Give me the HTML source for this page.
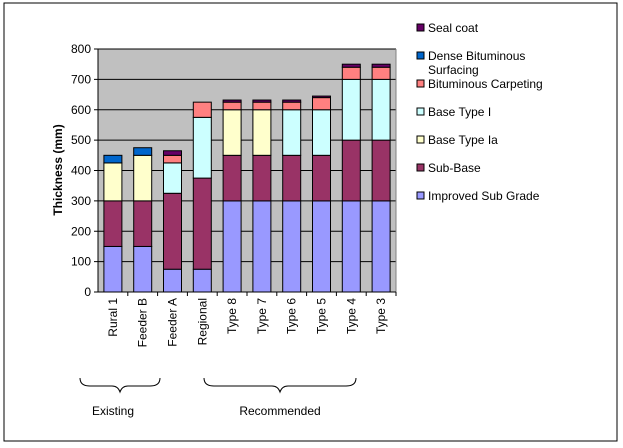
<!DOCTYPE html>
<html><head><meta charset="utf-8"><style>
body{margin:0;background:#fff;}
svg{display:block;font-family:"Liberation Sans",Arial,sans-serif;}
</style></head><body>
<svg id="chart" width="623" height="448">
<rect x="4" y="3" width="613" height="438" fill="#fff" stroke="#000" stroke-width="1"/>
<rect x="98" y="49" width="298" height="243" fill="#c0c0c0"/>
<g id="grid"></g><g id="bars"></g><g id="axes"></g><g id="legend"></g>
<text x="0" y="0" transform="translate(62,170) rotate(-90)" text-anchor="middle" font-size="12" font-weight="bold">Thickness (mm)</text>
<path d="M80,378 q0,8 10,8 h22 q6,0 8,6 q2,-6 8,-6 h22 q10,0 10,-8" fill="none" stroke="#000"/>
<path d="M204,378 q0,8 10,8 h58 q6,0 8,6 q2,-6 8,-6 h58 q10,0 10,-8" fill="none" stroke="#000"/>
<text x="113" y="415" text-anchor="middle" font-size="12">Existing</text>
<text x="280" y="415" text-anchor="middle" font-size="12">Recommended</text>
</svg>
<script>
const categories=["Rural 1","Feeder B","Feeder A","Regional","Type 8","Type 7","Type 6","Type 5","Type 4","Type 3"];
const seriesNames=["Improved Sub Grade","Sub-Base","Base Type Ia","Base Type I","Bituminous Carpeting","Dense Bituminous Surfacing","Seal coat"];
const improvedSubGrade=[150,150,75,75,300,300,300,300,300,300];
const subBase=[150,150,250,300,150,150,150,150,200,200];
const baseTypeIa=[125,150,0,0,150,150,0,0,0,0];
const baseTypeI=[0,0,100,200,0,0,150,150,200,200];
const bitCarpeting=[0,0,25,50,25,25,25,40,40,40];
const denseBit=[25,25,0,0,0,0,0,0,0,0];
const sealCoat=[0,0,15,0,7,7,7,5,10,10];
const yTicks=[0,100,200,300,400,500,600,700,800];
const colors=["#9999ff","#993366","#ffffcc","#ccffff","#ff8080","#0066cc","#660066"];
const series=[improvedSubGrade,subBase,baseTypeIa,baseTypeI,bitCarpeting,denseBit,sealCoat];
const NS="http://www.w3.org/2000/svg";
const X0=98,X1=396,Y0=292,Y1=49,YMAX=800;
const y=v=>Y0-(v/YMAX)*(Y0-Y1);
const band=(X1-X0)/categories.length;
const xc=i=>X0+band*(i+0.5);
function mk(t,a,p){const e=document.createElementNS(NS,t);for(const k in a)e.setAttribute(k,a[k]);p.appendChild(e);return e;}
const grid=document.getElementById('grid'),axes=document.getElementById('axes'),bars=document.getElementById('bars'),leg=document.getElementById('legend');
yTicks.forEach(t=>{
 if(t>0){const g=mk('line',{x1:X0,x2:X1,y1:y(t),y2:y(t),stroke:'#000','stroke-width':1},grid);
 
 }
 const tk=mk('line',{x1:X0-4,x2:X0,y1:y(t),y2:y(t),stroke:'#000'},axes);
 
 
 const tx=mk('text',{x:X0-7,y:y(t)+4,'text-anchor':'end','font-size':12},axes);tx.textContent=t;
 
 
});
mk('line',{x1:X0,x2:X0,y1:Y1,y2:Y0,stroke:'#000'},axes);
mk('line',{x1:X0,x2:X1,y1:Y0,y2:Y0,stroke:'#000'},axes);
mk('line',{x1:X1,x2:X1,y1:Y1,y2:Y0,stroke:'#808080'},grid);
categories.forEach((c,i)=>{
 const tk=mk('line',{x1:X0+band*(i+1),x2:X0+band*(i+1),y1:Y0,y2:Y0+4,stroke:'#000'},axes);
 
 
 const tx=mk('text',{x:0,y:0,transform:`translate(${xc(i)+4},${Y0+6}) rotate(-90)`,'text-anchor':'end','font-size':12},axes);tx.textContent=c;
 
 
 let acc=0;
 series.forEach((s,k)=>{
  const v=s[i];if(v<=0)return;
  const r=mk('rect',{x:xc(i)-9,y:y(acc+v),width:18,height:y(acc)-y(acc+v),fill:colors[k],stroke:'#000','stroke-width':1},bars);
  
  
  acc+=v;
 });
});
const legRows=[6,5,4,3,2,1,0];
legRows.forEach((k,j)=>{
 const yy=30+j*28;
 const sq=mk('rect',{x:417,y:yy-6,width:7,height:7,fill:colors[k],stroke:'#000'},leg);
 
 
 const t=mk('text',{x:428,y:yy+2,'font-size':12},leg);
 
 
 if(seriesNames[k]==="Dense Bituminous Surfacing"){
  t.textContent="Dense Bituminous";
  const t2=mk('text',{x:428,y:yy+16,'font-size':12},leg);t2.textContent="Surfacing";
  
  
 } else t.textContent=seriesNames[k];
});
</script>
</body></html>
